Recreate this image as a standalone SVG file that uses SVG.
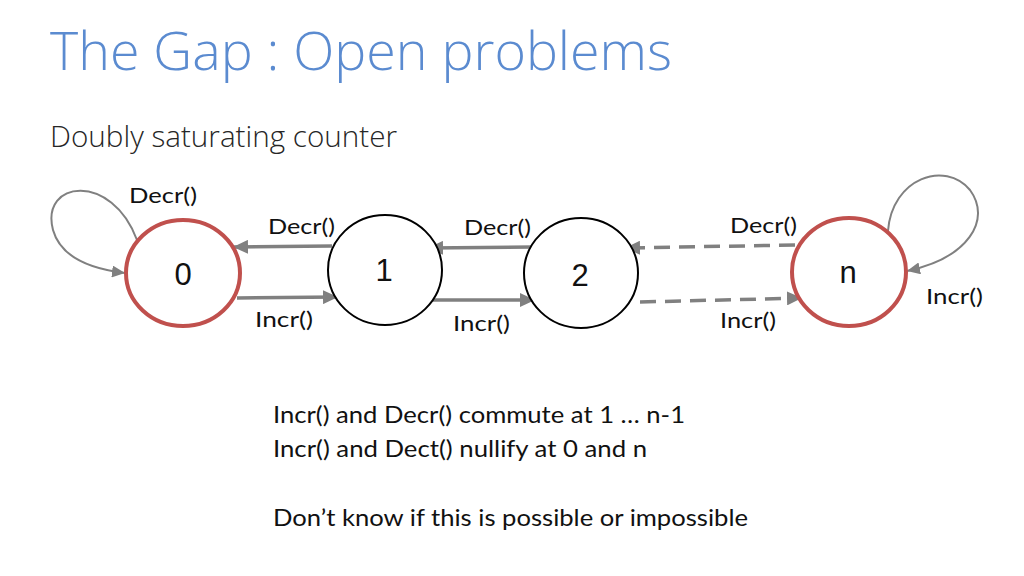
<svg xmlns="http://www.w3.org/2000/svg" width="1024" height="576" viewBox="0 0 1024 576">
  <style>
    .title { font-family: "Open Sans", "Segoe UI", sans-serif; font-weight: 300; fill: #5b8bd0; }
    .sub { font-family: "Open Sans", sans-serif; font-weight: 300; fill: #262626; }
    .lbl { font-family: Lato, "Open Sans", sans-serif; font-size: 21px; fill: #111; }
    .body { font-family: Lato, "Open Sans", sans-serif; font-size: 24px; fill: #111; }
    .num { font-family: "Liberation Sans", Arial, sans-serif; font-size: 31px; fill: #111; text-anchor: middle; }
    .edge { stroke: #808080; stroke-width: 3.5; fill: none; }
    .dash { stroke-dasharray: 16 9; }
    .loop { stroke: #808080; stroke-width: 2; fill: none; }
    .red { fill: #fff; stroke: #c0504d; stroke-width: 4; }
    .blk { fill: #fff; stroke: #000; stroke-width: 2; }
  </style>
  <defs>
    <marker id="ah" markerUnits="userSpaceOnUse" markerWidth="16" markerHeight="14" refX="15" refY="7" orient="auto">
      <path d="M0,0 L15,7 L0,14 z" fill="#808080"/>
    </marker>
    <marker id="ahs" markerUnits="userSpaceOnUse" markerWidth="14" markerHeight="12" refX="13" refY="6" orient="auto">
      <path d="M0,0 L13,6 L0,12 z" fill="#808080"/>
    </marker>
  </defs>
  <rect width="1024" height="576" fill="#fff"/>

  <text class="title" x="50" y="70" font-size="54" textLength="622" lengthAdjust="spacingAndGlyphs">The Gap : Open problems</text>
  <text class="sub" x="50" y="147" font-size="30" textLength="347" lengthAdjust="spacingAndGlyphs">Doubly saturating counter</text>

  <g id="connectors">
    <path class="loop" d="M 137 240 C 112 172, 40 180, 53 230 C 62 262, 100 270, 125 273" marker-end="url(#ahs)"/>
    <path class="loop" d="M 888 231 C 892 178, 945 160, 970 190 C 992 220, 968 258, 907 271" marker-end="url(#ahs)"/>
    <line class="edge" x1="332" y1="246" x2="233" y2="247" marker-end="url(#ah)"/>
    <line class="edge" x1="237" y1="298" x2="338" y2="297" marker-end="url(#ah)"/>
    <line class="edge" x1="533" y1="247" x2="428" y2="248" marker-end="url(#ah)"/>
    <line class="edge" x1="433" y1="300" x2="535" y2="300" marker-end="url(#ah)"/>
    <line class="edge dash" x1="795" y1="245" x2="625" y2="248" marker-end="url(#ah)"/>
    <line class="edge dash" x1="640" y1="302" x2="802" y2="298" marker-end="url(#ah)"/>
    <text class="lbl" x="129" y="203" textLength="68" lengthAdjust="spacingAndGlyphs">Decr()</text>
    <text class="lbl" x="268" y="234" textLength="67" lengthAdjust="spacingAndGlyphs">Decr()</text>
    <text class="lbl" x="255" y="327" textLength="58" lengthAdjust="spacingAndGlyphs">Incr()</text>
    <text class="lbl" x="464" y="235" textLength="67" lengthAdjust="spacingAndGlyphs">Decr()</text>
    <text class="lbl" x="453" y="331" textLength="57" lengthAdjust="spacingAndGlyphs">Incr()</text>
    <text class="lbl" x="730" y="233" textLength="67" lengthAdjust="spacingAndGlyphs">Decr()</text>
    <text class="lbl" x="720" y="328" textLength="56" lengthAdjust="spacingAndGlyphs">Incr()</text>
    <text class="lbl" x="926" y="304" textLength="57" lengthAdjust="spacingAndGlyphs">Incr()</text>
  </g>

  <g id="node-0">
    <ellipse class="red" cx="183" cy="273" rx="57" ry="53"/>
    <text class="num" x="183" y="285">0</text>
  </g>
  <g id="node-1">
    <ellipse class="blk" cx="385" cy="270" rx="57" ry="55"/>
    <text class="num" x="384" y="281">1</text>
  </g>
  <g id="node-2">
    <ellipse class="blk" cx="581" cy="273" rx="57" ry="55"/>
    <text class="num" x="580" y="286">2</text>
  </g>
  <g id="node-n">
    <ellipse class="red" cx="849" cy="272" rx="57" ry="54"/>
    <text class="num" x="848" y="283">n</text>
  </g>

  <g id="notes">
    <text class="body" x="273" y="423" textLength="412" lengthAdjust="spacingAndGlyphs">Incr() and Decr() commute at 1 … n-1</text>
    <text class="body" x="273" y="457" textLength="374" lengthAdjust="spacingAndGlyphs">Incr() and Dect() nullify at 0 and n</text>
    <text class="body" x="273" y="526" textLength="475" lengthAdjust="spacingAndGlyphs">Don’t know if this is possible or impossible</text>
  </g>
</svg>
